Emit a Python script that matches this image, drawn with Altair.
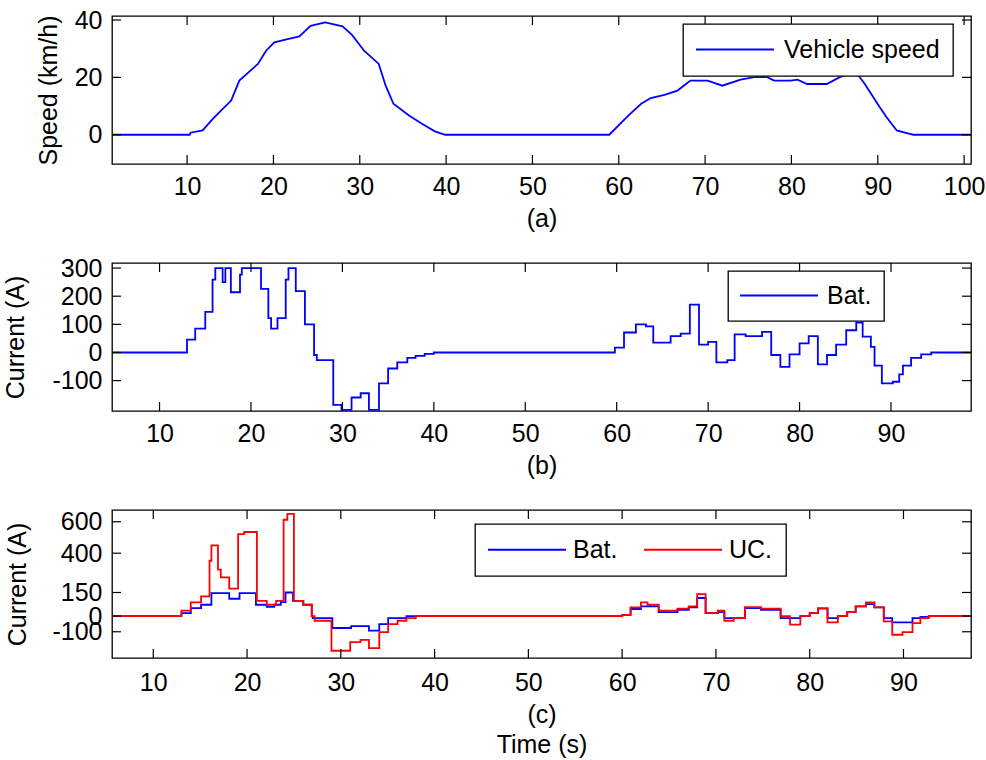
import altair as alt
import pandas as pd

FONT = "Liberation Sans"
FS = 25
W, H = 859, 148
BLUE, RED = "#0000ff", "#ff0000"

# (a) vehicle speed, km/h
speed_t = [1.3, 10.3, 10.4, 11.8, 13.0, 15.1, 16.05, 18.2, 19.15, 20.1, 21.4, 23.0, 24.3,
           26.0, 28.0, 29.1, 30.5, 32.2, 33.0, 33.9, 35.7, 37.2, 38.7, 39.9, 58.9, 61.1,
           62.6, 63.7, 65.3, 66.8, 68.3, 70.3, 72.0, 74.1, 75.7, 77.2, 78.0, 79.9, 80.7,
           81.8, 84.1, 85.6, 86.8, 87.7, 88.5, 90.1, 91.0, 92.2, 93.7, 94.1, 100.8]
speed_v = [0, 0, 0.7, 1.5, 5.6, 11.9, 18.9, 24.7, 29.3, 32.2, 33.2, 34.3, 38.0,
           39.2, 37.8, 34.8, 29.3, 24.7, 17.1, 10.8, 6.7, 3.8, 1.2, 0, 0, 6.7,
           10.8, 12.8, 13.9, 15.4, 18.9, 18.9, 17.1, 19.2, 20.1, 20.1, 18.9, 18.9, 19.2,
           17.7, 17.7, 20.1, 21.5, 20.9, 17.7, 10.2, 6.2, 1.5, 0.3, 0, 0]

# (b) battery current, A (piecewise constant, value holds from each time on)
bat_b_t = [4.8, 13.0, 13.9, 15.0, 15.8, 16.1, 16.9, 17.2, 17.8, 18.8, 19.0, 21.1, 21.9,
           22.2, 22.9, 23.8, 24.1, 24.9, 25.9, 26.9, 27.2, 29.0, 29.9, 31.0, 32.0, 32.9,
           34.0, 35.0, 36.0, 37.1, 38.0, 39.0, 40.0, 59.8, 60.8, 62.1, 63.2, 64.0, 65.9,
           67.0, 68.0, 69.0, 70.0, 70.9, 72.1, 72.9, 74.1, 75.9, 76.9, 77.9, 78.9, 80.0,
           81.0, 82.0, 83.0, 84.0, 85.1, 86.2, 86.9, 87.8, 88.2, 89.0, 90.2, 90.9, 91.3,
           92.2, 93.3, 94.4, 98.75]
bat_b_v = [0, 46, 85, 144, 259, 300, 250, 300, 214, 277, 300, 226, 122,
           85, 122, 259, 300, 218, 100, -9, -27, -186, -204, -160, -145, -204,
           -110, -57, -35, -19, -12, -5, 0, 17, 71, 100, 93, 35, 58,
           67, 170, 28, 38, -35, -27, 64, 58, 73, -9, -51, -7, 32,
           58, -42, -9, 28, 79, 106, 56, 20, -47, -110, -104, -78, -47,
           -19, -7, 0, 0]

# (c) battery and ultracapacitor currents, A
bat_c_t = [5.6, 13.0, 14.0, 15.1, 16.2, 18.1, 19.2, 20.95, 22.1, 22.9, 23.6, 24.1, 24.9,
           26.0, 26.9, 27.0, 29.1, 31.1, 33.0, 34.1, 35.05, 37.0, 60.0, 60.9, 62.0, 63.9,
           65.9, 67.1, 68.0, 68.9, 70.2, 70.9, 73.1, 74.8, 76.9, 79.0, 80.0, 80.9, 81.9,
           83.0, 84.0, 84.9, 86.0, 86.9, 87.9, 88.8, 90.96, 91.8, 92.7, 97.2]
bat_c_v = [0, 19, 51, 72, 146, 110, 146, 72, 59, 72, 89, 150, 97,
           72, 0, -13, -76, -64, -93, -51, -13, 0, 8, 45, 62, 25,
           40, 55, 115, 19, 25, -13, 51, 40, -13, 0, 19, 47, -13,
           0, 25, 62, 76, 55, -13, -40, -13, -5, 0, 0]
uc_t = [5.6, 13.0, 14.0, 15.1, 16.0, 16.2, 16.9, 17.2, 18.1, 19.05, 19.7, 21.05, 22.1,
        23.1, 23.9, 24.3, 25.0, 26.0, 26.9, 27.2, 29.0, 31.0, 32.1, 33.0, 34.1, 35.05,
        36.05, 37.0, 38.0, 60.0, 60.9, 62.0, 62.7, 63.9, 65.9, 67.1, 68.0, 68.9, 70.2,
        70.9, 71.9, 73.1, 74.8, 76.9, 77.9, 79.0, 80.0, 80.9, 81.9, 83.0, 84.0, 84.9,
        86.0, 86.9, 87.9, 88.8, 89.9, 90.96, 91.8, 92.7, 97.2]
uc_v = [0, 34, 87, 125, 352, 450, 295, 246, 174, 522, 535, 97, 72,
        97, 613, 650, 97, 72, 0, -30, -221, -166, -151, -204, -102, -51,
        -30, -13, 0, 8, 55, 87, 72, 34, 47, 62, 140, 19, 34,
        -30, -13, 57, 47, 0, -55, 0, 19, 51, -40, 0, 25, 62,
        87, 55, -34, -119, -102, -45, -13, 0, 0]

x_ticks_a = [10, 20, 30, 40, 50, 60, 70, 80, 90, 100]
x_ticks_bc = [10, 20, 30, 40, 50, 60, 70, 80, 90]
y_ticks_a = [0, 20, 40]
y_ticks_b = [-100, 0, 100, 200, 300]
y_ticks_c = [-100, 0, 150, 400, 600]

TICK_LEN = 9


def series(t, v, name):
    return pd.DataFrame({"t": t, "v": v, "series": name})


def legend(x, y, offset, horizontal=False, pad=12):
    # long horizontal stroke as the legend sample line
    return alt.Legend(
        title=None, orient="none", legendX=x, legendY=y,
        direction="horizontal" if horizontal else "vertical",
        fillColor="white", strokeColor="black", padding=pad,
        cornerRadius=0, symbolType="M-4,0L4,0", symbolSize=380,
        symbolOffset=26.5, symbolStrokeWidth=1.8, symbolFillColor="transparent",
        labelOffset=offset, labelFont=FONT, labelFontSize=FS, labelColor="black",
        labelBaseline="middle", columnPadding=22,
    )


def panel(lines, interp, names, colors, leg, xdom, ydom, xticks, yticks,
          xtitle, ytitle, ytitle_pad, xlabel_pad=10, xtitle_lh=29):
    xs = alt.Scale(domain=xdom, nice=False, zero=False)
    ys = alt.Scale(domain=ydom, nice=False, zero=False)
    xa = alt.Axis(values=xticks, title=xtitle, labelPadding=xlabel_pad,
                  titleLineHeight=xtitle_lh, labelExpr="toString(datum.value)")
    ya = alt.Axis(values=yticks, title=ytitle, titlePadding=ytitle_pad,
                  labelExpr="toString(datum.value)")
    cs = alt.Scale(domain=names, range=colors)

    layers = []
    for df in lines:
        layers.append(
            alt.Chart(df).mark_line(interpolate=interp, strokeWidth=1.8, clip=True).encode(
                x=alt.X("t:Q", scale=xs, axis=xa),
                y=alt.Y("v:Q", scale=ys, axis=ya),
                color=alt.Color("series:N", scale=cs, legend=leg),
            )
        )

    xt = pd.DataFrame({"t": xticks})
    yt = pd.DataFrame({"v": yticks})
    rule = dict(color="black", strokeWidth=1.2)
    tx = alt.X("t:Q", scale=xs, axis=xa)
    ty = alt.Y("v:Q", scale=ys, axis=ya)
    # inward tick marks on all four sides of the box
    layers += [
        alt.Chart(xt).mark_rule(**rule).encode(x=tx, y=alt.value(H), y2=alt.value(H - TICK_LEN)),
        alt.Chart(xt).mark_rule(**rule).encode(x=tx, y=alt.value(0), y2=alt.value(TICK_LEN)),
        alt.Chart(yt).mark_rule(**rule).encode(y=ty, x=alt.value(0), x2=alt.value(TICK_LEN)),
        alt.Chart(yt).mark_rule(**rule).encode(y=ty, x=alt.value(W - TICK_LEN), x2=alt.value(W)),
    ]
    return alt.layer(*layers).properties(width=W, height=H)


chart_a = panel(
    [series(speed_t, speed_v, "Vehicle speed")], "linear",
    ["Vehicle speed"], [BLUE], legend(571, 8, 36.5, pad=13),
    [1.3, 100.8], [-10.2, 41.4], x_ticks_a, y_ticks_a, "(a)", "Speed (km/h)", 13,
)
chart_b = panel(
    [series(bat_b_t, bat_b_v, "Bat.")], "step-after",
    ["Bat."], [BLUE], legend(616, 8, 35.5),
    [4.8, 98.75], [-208, 318], x_ticks_bc, y_ticks_b, "(b)", "Current (A)", 23,
)
chart_c = panel(
    [series(bat_c_t, bat_c_v, "Bat."), series(uc_t, uc_v, "UC.")], "step-after",
    ["Bat.", "UC."], [BLUE, RED], legend(363, 14, 33.5, horizontal=True, pad=13),
    [5.6, 97.2], [-267, 675], x_ticks_bc, y_ticks_c, ["(c)", "Time (s)"], "Current (A)", 21,
    xlabel_pad=12, xtitle_lh=30,
)

chart = (
    alt.vconcat(chart_a, chart_b, chart_c, spacing=99, bounds="flush")
    .resolve_scale(x="independent", y="independent", color="independent")
    .resolve_legend(color="independent")
    .properties(padding={"left": 3, "top": 7, "right": 0, "bottom": 0}, background="white")
    .configure_axis(
        domain=False, ticks=False, tickSize=0, grid=False,
        labelFont=FONT, labelFontSize=FS, labelColor="black",
        titleFont=FONT, titleFontSize=FS, titleFontWeight="normal", titleColor="black",
        labelOverlap=False, labelBound=False, labelFlush=False,
    )
    .configure_axisX(titlePadding=7)
    .configure_axisY(labelPadding=10)
    .configure_legend(strokeWidth=1.3)
    .configure_view(stroke="black", strokeWidth=1.3)
)

chart.save("out.html", embed_options={"renderer": "svg", "actions": False})
